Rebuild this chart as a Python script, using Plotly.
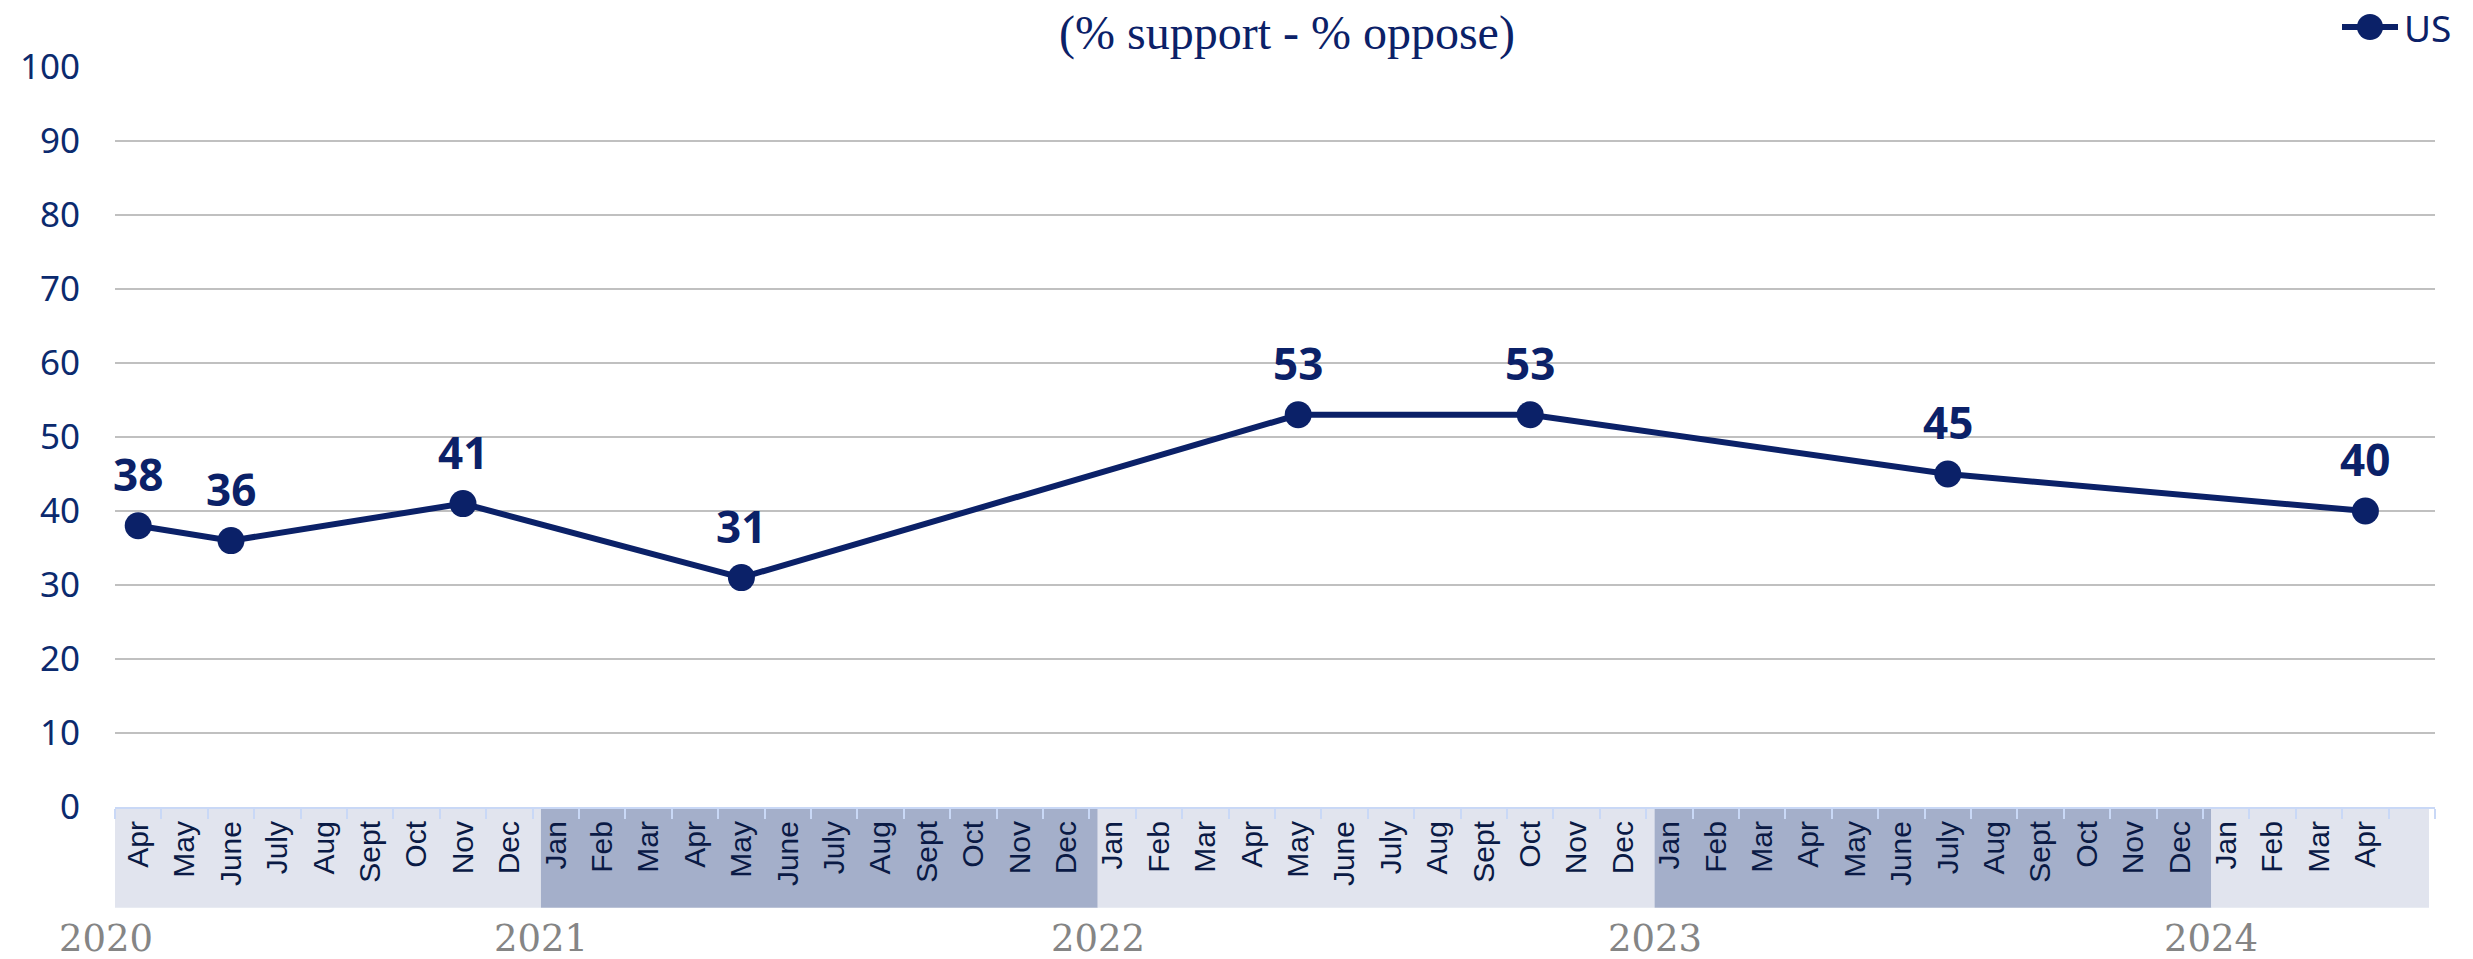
import plotly.graph_objects as go

# Monthly category axis: Apr 2020 .. Apr 2024, plus one trailing empty slot
years = [2020, 2021, 2022, 2023, 2024]
months_2020 = ["Apr", "May", "June", "July", "Aug", "Sept", "Oct", "Nov", "Dec"]
months_full = ["Jan", "Feb", "Mar", "Apr", "May", "June", "July", "Aug", "Sept", "Oct", "Nov", "Dec"]
months_2024 = ["Jan", "Feb", "Mar", "Apr"]

# Survey waves and net support (% support - % oppose)
survey_dates = ["Apr 2020", "June 2020", "Nov 2020", "May 2021", "May 2022", "Oct 2022", "July 2023", "Apr 2024"]
net_support = [38, 36, 41, 31, 53, 53, 45, 40]

series_name = "US"
title_text = "(% support - % oppose)"

# Build the category list and month tick labels
year_months = [(2020, months_2020), (2021, months_full), (2022, months_full),
               (2023, months_full), (2024, months_2024)]
categories, tick_labels = [], []
for yr, mlist in year_months:
    for m in mlist:
        categories.append(f"{m} {yr}")
        tick_labels.append(m)
categories.append("pad")
tick_labels.append("")

NAVY = "#0B2168"
LIGHT_BAND = "#E1E4EE"
DARK_BAND = "#A4AFCA"
AXIS_BLUE = "#C9D8F6"

W, H = 2473, 959
ML, MR, MT, MB = 115, 38, 67, 152
PW, PH = W - ML - MR, H - MT - MB


def px_x(p):
    return (p - ML) / PW


def px_y(p):
    return 1 + (MT - p) / PH


fig = go.Figure()

# invisible trace that registers every month on the axis
fig.add_trace(go.Scatter(x=categories, y=[None] * len(categories), mode="markers",
                         showlegend=False, hoverinfo="skip"))

fig.add_trace(go.Scatter(
    x=survey_dates, y=net_support, name=series_name,
    mode="lines+markers", showlegend=False,
    line=dict(color=NAVY, width=6),
    marker=dict(color=NAVY, size=27),
))

# value labels above each point
for d, v in zip(survey_dates, net_support):
    fig.add_annotation(x=d, y=v, text=f"<b>{v}</b>", showarrow=False,
                       yanchor="bottom", yshift=20,
                       font=dict(family="Open Sans", size=44, color=NAVY))

# year bands behind the month labels
band_bounds = [-0.56]
idx = 0
for yr, mlist in year_months:
    idx += len(mlist)
    band_bounds.append(idx - 0.32)
band_bounds[-1] = 49.37
for i, yr in enumerate(years):
    fig.add_shape(type="rect", xref="x", yref="paper",
                  x0=band_bounds[i], x1=band_bounds[i + 1], y0=-0.136, y1=0,
                  fillcolor=DARK_BAND if i % 2 else LIGHT_BAND,
                  line=dict(width=0), layer="below")
    if i == 0:
        lx, lref = px_x(106), "paper"
    else:
        lx, lref = band_bounds[i], "x"
    fig.add_annotation(x=lx, y=-0.178, xref=lref, yref="paper",
                       text=str(yr), showarrow=False, xanchor="center", yanchor="middle",
                       font=dict(family="DejaVu Serif", size=37, color="#858585"))

fig.add_annotation(x=0.505, y=px_y(33), xref="paper", yref="paper", text=title_text,
                   showarrow=False, xanchor="center", yanchor="middle",
                   font=dict(family="Liberation Serif", size=48, color=NAVY))

# legend key: line with a dot, followed by the series name
ly = px_y(27)
fig.add_shape(type="line", xref="paper", yref="paper",
              x0=px_x(2342), x1=px_x(2398), y0=ly, y1=ly,
              line=dict(color=NAVY, width=6))
fig.add_shape(type="circle", xref="paper", yref="paper",
              x0=px_x(2357), x1=px_x(2383), y0=px_y(40), y1=px_y(14),
              fillcolor=NAVY, line=dict(width=0))
fig.add_annotation(x=px_x(2402), y=ly, xref="paper", yref="paper", text=series_name,
                   showarrow=False, xanchor="left", yanchor="middle",
                   font=dict(family="Noto Sans", size=37, color=NAVY))

fig.update_layout(
    width=W, height=H,
    margin=dict(l=ML, r=MR, t=MT, b=MB, autoexpand=False),
    plot_bgcolor="white", paper_bgcolor="white",
    showlegend=False,
    xaxis=dict(
        type="category", categoryorder="array", categoryarray=categories,
        range=[-0.5, len(categories) - 0.5],
        tickmode="array", tickvals=categories, ticktext=tick_labels,
        tickangle=-90, tickson="boundaries",
        ticks="outside", ticklen=10, tickwidth=2, tickcolor=AXIS_BLUE,
        showline=True, linecolor=AXIS_BLUE, linewidth=2,
        showgrid=False, zeroline=False,
        tickfont=dict(family="Liberation Sans", size=30, color="#0A1A45"),
    ),
    yaxis=dict(
        range=[0, 100], dtick=10, tick0=0,
        showgrid=True, gridcolor="#C0C0C0", gridwidth=2,
        zeroline=False, showline=False, ticks="",
        ticklabelstandoff=34,
        tickfont=dict(family="Noto Sans", size=35, color="#0B2A6E"),
    ),
)

fig.write_html("out.html")
